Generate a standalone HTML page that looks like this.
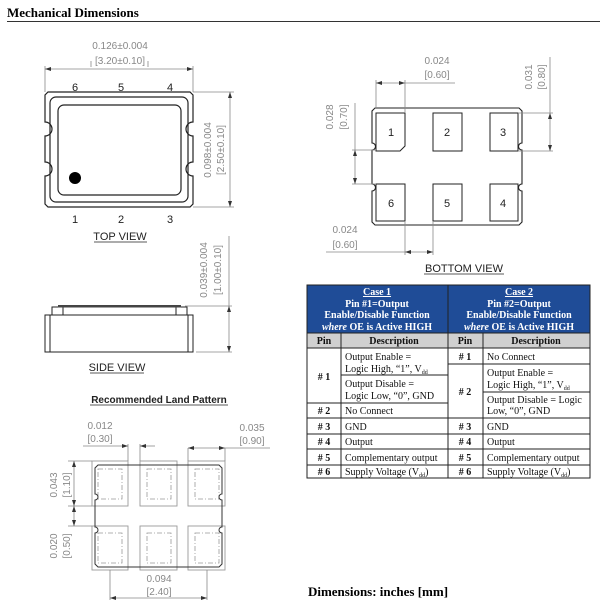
<!DOCTYPE html>
<html><head><meta charset="utf-8"><style>
html,body{margin:0;padding:0;background:#fff;}
svg{display:block}
.d{font-family:"Liberation Sans",sans-serif;font-size:10px;fill:#888}
.p{font-family:"Liberation Sans",sans-serif;font-size:11px;fill:#222}
.t{font-family:"Liberation Serif",serif;font-size:10px;fill:#111}
.h{font-family:"Liberation Serif",serif;font-size:10px;fill:#fff;font-weight:bold}
</style></head><body>
<svg width="600" height="614" viewBox="0 0 600 614" xmlns="http://www.w3.org/2000/svg">
<text x="7" y="17" font-family="Liberation Serif,serif" font-weight="bold" font-size="13" fill="#000">Mechanical Dimensions</text>
<line x1="7" y1="21.5" x2="600" y2="21.5" stroke="#333" stroke-width="1"/>

<!-- TOP VIEW -->
<g stroke="#888" stroke-width="0.8" fill="none">
<line x1="45" y1="66" x2="45" y2="92"/><line x1="193" y1="66" x2="193" y2="92"/>
<line x1="45" y1="69" x2="193" y2="69"/>
<line x1="193" y1="92" x2="234" y2="92"/><line x1="193" y1="207" x2="234" y2="207"/>
<line x1="230" y1="92" x2="230" y2="207"/>
<polyline points="91,61 91,67"/><polyline points="148,61 148,67"/>
</g>
<text class="d" x="120" y="49" text-anchor="middle">0.126±0.004</text>
<text class="d" x="120" y="64" text-anchor="middle">[3.20±0.10]</text>
<text class="d" transform="translate(211,150) rotate(-90)" text-anchor="middle">0.098±0.004</text>
<text class="d" transform="translate(224,150) rotate(-90)" text-anchor="middle">[2.50±0.10]</text>
<g fill="#333"><path d="M45,69 l6,-2 v4z"/><path d="M193,69 l-6,-2 v4z"/><path d="M230,92 l-2,6 h4z"/><path d="M230,207 l-2,-6 h4z"/></g>
<g fill="none" stroke="#222" stroke-width="1.2">
<path d="M48,92 H190 L193,95 V122 A3,3 0 0 0 193,136 V162 A3,3 0 0 0 193,176 V204 L190,207 H48 L45,204 V176 A3,3 0 0 0 45,162 V136 A3,3 0 0 0 45,122 V95 Z"/>
<rect x="50" y="97" width="138" height="105" rx="6"/>
<rect x="58" y="105" width="123" height="90" rx="6"/>
</g>
<circle cx="75" cy="178" r="6" fill="#000"/>
<text class="p" x="75" y="91" text-anchor="middle">6</text><text class="p" x="121" y="91" text-anchor="middle">5</text><text class="p" x="170" y="91" text-anchor="middle">4</text>
<text class="p" x="75" y="223" text-anchor="middle">1</text><text class="p" x="121" y="223" text-anchor="middle">2</text><text class="p" x="170" y="223" text-anchor="middle">3</text>
<text class="p" x="120" y="240" text-anchor="middle" font-size="10.5">TOP VIEW</text>
<line x1="94" y1="242" x2="147" y2="242" stroke="#222" stroke-width="0.8"/>

<!-- SIDE VIEW -->
<g fill="none" stroke="#222" stroke-width="1">
<rect x="45" y="315" width="148" height="37"/>
<line x1="50" y1="315" x2="50" y2="352"/><line x1="188" y1="315" x2="188" y2="352"/>
<rect x="52" y="307" width="135" height="8"/>
<line x1="63" y1="307" x2="63" y2="315"/><line x1="176" y1="307" x2="176" y2="315"/>
</g>
<rect x="58" y="305" width="123" height="2.5" fill="#444"/>
<g stroke="#888" stroke-width="0.8"><line x1="185" y1="306" x2="232" y2="306"/><line x1="196" y1="352" x2="232" y2="352"/><line x1="229" y1="236" x2="229" y2="352"/></g>
<g fill="#333"><path d="M229,306 l-2,6 h4z"/><path d="M229,352 l-2,-6 h4z"/></g>
<text class="d" transform="translate(207,270) rotate(-90)" text-anchor="middle">0.039±0.004</text>
<text class="d" transform="translate(221,270) rotate(-90)" text-anchor="middle">[1.00±0.10]</text>
<text class="p" x="117" y="371" text-anchor="middle" font-size="10.5">SIDE VIEW</text>
<line x1="90" y1="373" x2="144" y2="373" stroke="#222" stroke-width="0.8"/>

<text x="159" y="403" text-anchor="middle" font-family="Liberation Sans,sans-serif" font-weight="bold" font-size="10" fill="#222">Recommended Land Pattern</text>
<line x1="90" y1="405" x2="228" y2="405" stroke="#222" stroke-width="0.8"/>

<!-- LAND PATTERN -->
<g fill="none" stroke="#999" stroke-width="0.9">
<rect x="92" y="461" width="36" height="45"/><rect x="140" y="461" width="37" height="45"/><rect x="188" y="461" width="37" height="45"/>
<rect x="92" y="526" width="36" height="44"/><rect x="140" y="526" width="37" height="44"/><rect x="188" y="526" width="37" height="44"/>
</g>
<g fill="none" stroke="#999" stroke-width="0.8" stroke-dasharray="5,2,1,2">
<rect x="98" y="469" width="24" height="30"/><rect x="147" y="469" width="24" height="30"/><rect x="195" y="469" width="24" height="30"/>
<rect x="98" y="533" width="24" height="30"/><rect x="147" y="533" width="24" height="30"/><rect x="195" y="533" width="24" height="30"/>
</g>
<path d="M98,465 H219 L222,468 V494 A3,3 0 0 0 222,500 V527 A3,3 0 0 0 222,533 V564 L219,567 H98 L95,564 V533 A3,3 0 0 0 95,527 V500 A3,3 0 0 0 95,494 V468 Z" fill="none" stroke="#333" stroke-width="1"/>
<g stroke="#888" stroke-width="0.8">
<line x1="83" y1="446" x2="128" y2="446"/><line x1="140" y1="446" x2="155" y2="446"/>
<line x1="128" y1="444" x2="128" y2="461"/><line x1="140" y1="444" x2="140" y2="461"/>
<line x1="188" y1="448" x2="188" y2="461"/><line x1="225" y1="448" x2="225" y2="461"/><line x1="188" y1="448" x2="270" y2="448"/>
<line x1="68" y1="461" x2="92" y2="461"/><line x1="68" y1="506" x2="92" y2="506"/><line x1="68" y1="526" x2="92" y2="526"/>
<line x1="74" y1="461" x2="74" y2="526"/>
<line x1="110" y1="570" x2="110" y2="600"/><line x1="207" y1="570" x2="207" y2="600"/><line x1="110" y1="598" x2="207" y2="598"/>
</g>
<g fill="#333"><path d="M128,446 l-6,-2 v4z"/><path d="M140,446 l6,-2 v4z"/><path d="M188,448 l6,-2 v4z"/><path d="M225,448 l-6,-2 v4z"/>
<path d="M74,461 l-2,6 h4z"/><path d="M74,506 l-2,-6 h4z"/><path d="M74,506 l-2,6 h4z"/><path d="M74,526 l-2,-6 h4z"/>
<path d="M110,598 l6,-2 v4z"/><path d="M207,598 l-6,-2 v4z"/></g>
<text class="d" x="100" y="429" text-anchor="middle">0.012</text><text class="d" x="100" y="442" text-anchor="middle">[0.30]</text>
<text class="d" x="252" y="431" text-anchor="middle">0.035</text><text class="d" x="252" y="444" text-anchor="middle">[0.90]</text>
<text class="d" transform="translate(57,485) rotate(-90)" text-anchor="middle">0.043</text>
<text class="d" transform="translate(70,485) rotate(-90)" text-anchor="middle">[1.10]</text>
<text class="d" transform="translate(57,546) rotate(-90)" text-anchor="middle">0.020</text>
<text class="d" transform="translate(70,546) rotate(-90)" text-anchor="middle">[0.50]</text>
<text class="d" x="159" y="582" text-anchor="middle">0.094</text><text class="d" x="159" y="595" text-anchor="middle">[2.40]</text>

<!-- BOTTOM VIEW -->
<path d="M375,108 H519 L522,111 V143 A3,3 0 0 0 522,150 V184 A3,3 0 0 0 522,191 V222 L519,225 H375 L372,222 V191 A3,3 0 0 0 372,184 V150 A3,3 0 0 0 372,143 V111 Z" fill="none" stroke="#222" stroke-width="1.1"/>
<g fill="none" stroke="#222" stroke-width="1">
<path d="M376,113 H405 V146 L400,151 H376 Z"/><rect x="433" y="113" width="29" height="38"/><rect x="490" y="113" width="28" height="38"/>
<rect x="376" y="184" width="29" height="37"/><rect x="433" y="184" width="29" height="37"/><rect x="490" y="184" width="28" height="37"/>
</g>
<text class="p" x="391" y="136" text-anchor="middle" font-size="10">1</text><text class="p" x="447" y="136" text-anchor="middle" font-size="10">2</text><text class="p" x="503" y="136" text-anchor="middle" font-size="10">3</text>
<text class="p" x="391" y="207" text-anchor="middle" font-size="10">6</text><text class="p" x="447" y="207" text-anchor="middle" font-size="10">5</text><text class="p" x="503" y="207" text-anchor="middle" font-size="10">4</text>
<g stroke="#888" stroke-width="0.8">
<line x1="376" y1="80" x2="376" y2="108"/><line x1="405" y1="80" x2="405" y2="113"/><line x1="376" y1="83" x2="455" y2="83"/>
<line x1="518" y1="113" x2="553" y2="113"/><line x1="518" y1="151" x2="553" y2="151"/><line x1="550" y1="57" x2="550" y2="151"/>
<line x1="352" y1="150" x2="376" y2="150"/><line x1="352" y1="184" x2="376" y2="184"/><line x1="355" y1="103" x2="355" y2="184"/>
<line x1="405" y1="221" x2="405" y2="255"/><line x1="433" y1="221" x2="433" y2="255"/><line x1="326" y1="252" x2="433" y2="252"/>
</g>
<g fill="#333"><path d="M376,83 l6,-2 v4z"/><path d="M405,83 l-6,-2 v4z"/><path d="M550,113 l-2,6 h4z"/><path d="M550,151 l-2,-6 h4z"/>
<path d="M355,150 l-2,6 h4z"/><path d="M355,184 l-2,-6 h4z"/><path d="M405,252 l6,-2 v4z"/><path d="M433,252 l-6,-2 v4z"/></g>
<text class="d" x="437" y="64" text-anchor="middle">0.024</text><text class="d" x="437" y="78" text-anchor="middle">[0.60]</text>
<text class="d" transform="translate(532,77) rotate(-90)" text-anchor="middle">0.031</text>
<text class="d" transform="translate(545,77) rotate(-90)" text-anchor="middle">[0.80]</text>
<text class="d" transform="translate(333,117) rotate(-90)" text-anchor="middle">0.028</text>
<text class="d" transform="translate(347,117) rotate(-90)" text-anchor="middle">[0.70]</text>
<text class="d" x="345" y="233" text-anchor="middle">0.024</text><text class="d" x="345" y="248" text-anchor="middle">[0.60]</text>
<text class="p" x="464" y="272" text-anchor="middle" font-size="10.5">BOTTOM VIEW</text>
<line x1="424" y1="274" x2="504" y2="274" stroke="#222" stroke-width="0.8"/>

<!-- TABLE -->
<rect x="307" y="285" width="283" height="48" fill="#1f4c97"/>
<rect x="307" y="333" width="283" height="15" fill="#d0d0d0"/>
<g class="h" text-anchor="middle">
<text x="377" y="295" text-decoration="underline">Case 1</text><text x="377" y="307">Pin #1=Output</text><text x="377" y="318">Enable/Disable Function</text><text x="377" y="330"><tspan font-style="italic">where</tspan> OE is Active HIGH</text>
<text x="519" y="295" text-decoration="underline">Case 2</text><text x="519" y="307">Pin #2=Output</text><text x="519" y="318">Enable/Disable Function</text><text x="519" y="330"><tspan font-style="italic">where</tspan> OE is Active HIGH</text>
</g>
<line x1="307" y1="295.5" x2="590" y2="295.5" stroke="#1f4c97"/>
<g stroke="#222" stroke-width="1" fill="none">
<rect x="307" y="285" width="283" height="193"/>
<line x1="448" y1="285" x2="448" y2="478"/>
<line x1="307" y1="333" x2="590" y2="333"/><line x1="307" y1="348" x2="590" y2="348"/>
<line x1="341" y1="333" x2="341" y2="478"/><line x1="483" y1="333" x2="483" y2="478"/>
<line x1="341" y1="375" x2="448" y2="375"/><line x1="307" y1="403" x2="448" y2="403"/>
<line x1="448" y1="364" x2="590" y2="364"/><line x1="483" y1="392" x2="590" y2="392"/>
<line x1="307" y1="418" x2="590" y2="418"/><line x1="307" y1="434" x2="590" y2="434"/>
<line x1="307" y1="449" x2="590" y2="449"/><line x1="307" y1="465" x2="590" y2="465"/>
</g>
<g class="t" font-weight="bold" text-anchor="middle">
<text x="324" y="344">Pin</text><text x="394" y="344">Description</text><text x="465" y="344">Pin</text><text x="536" y="344">Description</text>
<text x="324" y="380"># 1</text><text x="324" y="414"># 2</text><text x="324" y="430"># 3</text><text x="324" y="445"># 4</text><text x="324" y="461"># 5</text><text x="324" y="475"># 6</text>
<text x="465" y="360"># 1</text><text x="465" y="395"># 2</text><text x="465" y="430"># 3</text><text x="465" y="445"># 4</text><text x="465" y="461"># 5</text><text x="465" y="475"># 6</text>
</g>
<g class="t">
<text x="345" y="360">Output Enable =</text><text x="345" y="372">Logic High, “1”, V<tspan font-size="6" dy="2">dd</tspan></text>
<text x="345" y="387">Output Disable =</text><text x="345" y="399">Logic Low, “0”, GND</text>
<text x="345" y="414">No Connect</text><text x="345" y="430">GND</text><text x="345" y="445">Output</text><text x="345" y="461">Complementary output</text>
<text x="345" y="475">Supply Voltage (V<tspan font-size="6" dy="2">dd</tspan><tspan dy="-2">)</tspan></text>
<text x="487" y="360">No Connect</text>
<text x="487" y="376">Output Enable =</text><text x="487" y="388">Logic High, “1”, V<tspan font-size="6" dy="2">dd</tspan></text>
<text x="487" y="403">Output Disable = Logic</text><text x="487" y="414">Low, “0”, GND</text>
<text x="487" y="430">GND</text><text x="487" y="445">Output</text><text x="487" y="461">Complementary output</text>
<text x="487" y="475">Supply Voltage (V<tspan font-size="6" dy="2">dd</tspan><tspan dy="-2">)</tspan></text>
</g>

<text x="378" y="596" text-anchor="middle" font-family="Liberation Serif,serif" font-weight="bold" font-size="13" fill="#000">Dimensions: inches [mm]</text>
</svg>
</body></html>
